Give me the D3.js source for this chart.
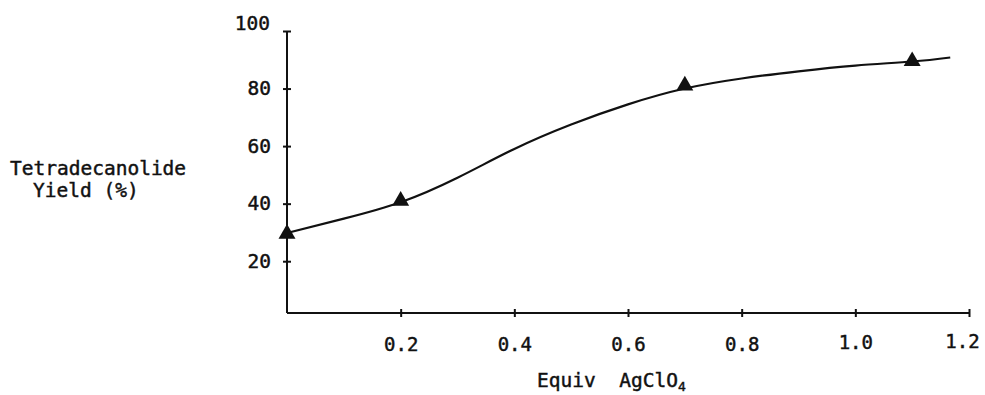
<!DOCTYPE html>
<html>
<head>
<meta charset="utf-8">
<script src="https://cdn.jsdelivr.net/npm/d3@7"></script>
<style>
  html, body { margin: 0; padding: 0; background: #fff; }
  svg text { font-family: "DejaVu Sans Mono", "Liberation Mono", monospace; fill: #111; stroke: #111; stroke-width: 0.45px; }
</style>
</head>
<body>
<svg id="chart" width="985" height="395"></svg>
<script>
// Measured points (triangles)
const equivAgClO4 = [0, 0.2, 0.7, 1.1];
const yieldPct = [29.5, 41, 81, 89.5];

// Smooth hand-drawn curve
const curveX = [0, 0.1, 0.2, 0.3, 0.4, 0.5, 0.6, 0.7, 0.8, 0.9, 1.0, 1.1, 1.167];
const curveY = [29.8, 34.8, 40.5, 49, 59, 67.5, 74.5, 80, 83.5, 86, 88, 89.4, 90.8];

// Tick labels
const xTicks = [0.2, 0.4, 0.6, 0.8, 1.0, 1.2];
const xTickLabels = ["0.2", "0.4", "0.6", "0.8", "1.0", "1.2"];
const yTicks = [20, 40, 60, 80, 100];
const yTickLabels = ["20", "40", "60", "80", "100"];

const svg = d3.select("#chart");
const x = d3.scaleLinear().domain([0, 1.2]).range([287, 969]);
const y = d3.scaleLinear().domain([2, 100]).range([313, 31]);

const ink = "#111";

// X axis
const xAxis = d3.axisBottom(x)
  .tickValues(xTicks)
  .tickFormat((d, i) => xTickLabels[i])
  .tickSize(4)
  .tickPadding(21);
const gx = svg.append("g").attr("transform", `translate(0,${y(2)})`).call(xAxis);
gx.select(".domain").attr("d", `M${x(0)},0H${x(1.2)}`).attr("stroke", ink).attr("stroke-width", 2);
gx.selectAll(".tick line").attr("y1", -4).attr("y2", 4).attr("stroke", ink).attr("stroke-width", 2);
gx.selectAll(".tick text").attr("font-size", 19).attr("font-family", "DejaVu Sans Mono").attr("fill", ink);
gx.selectAll(".tick").filter(d => d === 1.2).select("text").attr("dx", -7).attr("dy", "0.55em");
gx.selectAll(".tick").filter(d => d === 1.0).select("text").attr("dy", "0.6em");

// Y axis
const yAxis = d3.axisLeft(y)
  .tickValues(yTicks)
  .tickFormat((d, i) => yTickLabels[i])
  .tickSize(4)
  .tickPadding(12);
const gy = svg.append("g").attr("transform", `translate(${x(0)},0)`).call(yAxis);
gy.select(".domain").attr("d", `M0,${y(2)}V${y(100)}`).attr("stroke", ink).attr("stroke-width", 2);
gy.selectAll(".tick line").attr("x1", -4).attr("x2", 4).attr("stroke", ink).attr("stroke-width", 2);
gy.selectAll(".tick text").attr("font-size", 19.5).attr("font-family", "DejaVu Sans Mono").attr("fill", ink);
gy.selectAll(".tick").filter(d => d === 100).select("text").attr("dy", "-0.1em").attr("x", -17);

// Curve
const curvePts = curveX.map((v, i) => [v, curveY[i]]);
svg.append("path")
  .datum(curvePts)
  .attr("fill", "none")
  .attr("stroke", ink)
  .attr("stroke-width", 2.2)
  .attr("d", d3.line().x(d => x(d[0])).y(d => y(d[1])).curve(d3.curveNatural));

// Triangles
svg.append("g").selectAll("path")
  .data(equivAgClO4.map((v, i) => [v, yieldPct[i]]))
  .join("path")
  .attr("transform", d => `translate(${x(d[0])},${y(d[1])})`)
  .attr("d", d3.symbol().type(d3.symbolTriangle).size(125))
  .attr("fill", ink);

// Y axis title
const yTitle = svg.append("g").attr("font-size", 19.5);
yTitle.append("text").attr("x", 10).attr("y", 175).text("Tetradecanolide");
yTitle.append("text").attr("x", 33).attr("y", 197).text("Yield (%)");

// X axis title
const xt = svg.append("text").attr("x", 537).attr("y", 387).attr("font-size", 19.5);
xt.append("tspan").text("Equiv\u00a0\u00a0AgClO");
xt.append("tspan").attr("font-size", 13).attr("dy", 4).text("4");
</script>
</body>
</html>
